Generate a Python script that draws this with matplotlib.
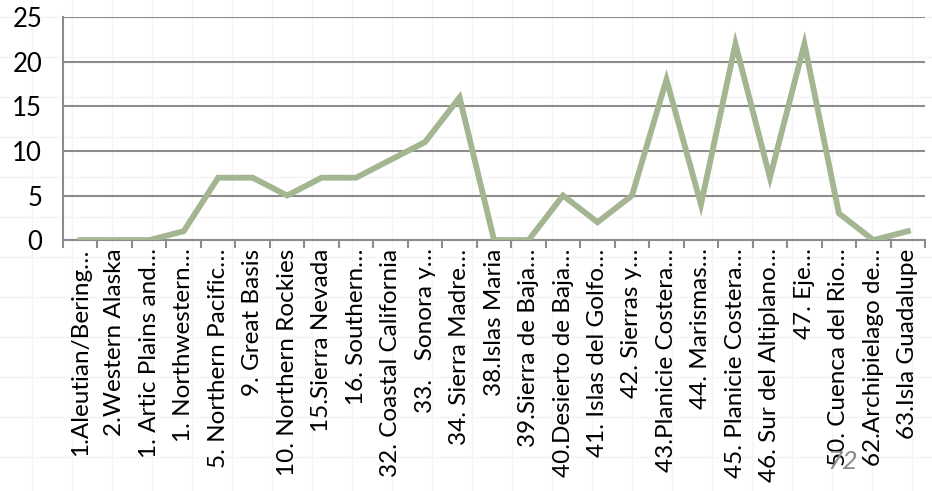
import matplotlib
matplotlib.use("Agg")
import matplotlib.pyplot as plt
import numpy as np

plt.rcParams["font.family"] = ["Lato", "DejaVu Sans"]

regions = [
    "1.Aleutian/Bering…",
    "2.Western Alaska",
    "1. Artic Plains and…",
    "1. Northwestern…",
    "5. Northern Pacific…",
    "9. Great Basis",
    "10. Northern Rockies",
    "15.Sierra Nevada",
    "16. Southern…",
    "32. Coastal California",
    "33.   Sonora y…",
    "34. Sierra Madre…",
    "38.Islas Maria",
    "39.Sierra de Baja…",
    "40.Desierto de Baja…",
    "41. Islas del Golfo…",
    "42. Sierras y…",
    "43.Planicie Costera…",
    "44. Marismas…",
    "45. Planicie Costera…",
    "46. Sur del Altiplano…",
    "47. Eje…",
    "50. Cuenca del Rio…",
    "62.Archipielago de…",
    "63.Isla Guadalupe",
]
counts = [0, 0, 0, 1, 7, 7, 5, 7, 7, 9, 11, 16, 0, 0, 5, 2, 5, 18, 4, 22, 7, 22, 3, 0, 1]

fig = plt.figure(figsize=(9.32, 4.91), dpi=100)

# faint slide grid behind the chart
bg = fig.add_axes([0, 0, 1, 1], zorder=-1)
bg.set_xlim(0, 932)
bg.set_ylim(491, 0)
for gx in np.arange(32, 932, 40):
    bg.axvline(gx, color="#f4f4f4", lw=1)
for gy in np.arange(17, 491, 40):
    bg.axhline(gy, color="#f4f4f4", lw=1)
bg.axis("off")

ax = fig.add_axes([0.0676, 0.511, 0.925, 0.454])
ax.patch.set_alpha(0)
x = np.arange(len(counts))
ax.plot(x, counts, color="#a3b591", lw=4.2, solid_joinstyle="miter", zorder=3)

ax.set_xlim(-0.5, len(counts) - 0.5)
ax.set_ylim(0, 25)
ax.set_yticks(np.arange(0, 26, 5))
ax.yaxis.grid(True, color="#8c8c8c", lw=1.5)
ax.set_axisbelow(True)

ax.set_xticks(x)
ax.set_xticklabels(regions, rotation=90, fontsize=17.5)
ax.set_xticks(np.arange(-0.5, len(counts)), minor=True)
ax.tick_params(axis="x", which="major", length=0, pad=6)
ax.tick_params(axis="x", which="minor", length=6, width=1.5, color="#8c8c8c")
ax.tick_params(axis="y", length=0, labelsize=18.5, pad=15)

for side in ["top", "right"]:
    ax.spines[side].set_visible(False)
ax.spines["bottom"].set_color("#8c8c8c")
ax.spines["bottom"].set_linewidth(1.5)
ax.spines["left"].set_color("#8c8c8c")
ax.spines["left"].set_linewidth(1.5)

# page number scribbled over the bottom labels
fig.text(0.904, 0.061, "72", color="#8a8a8a", fontsize=19, style="italic",
         ha="center", va="center")

fig.savefig("out.png", dpi=100)
